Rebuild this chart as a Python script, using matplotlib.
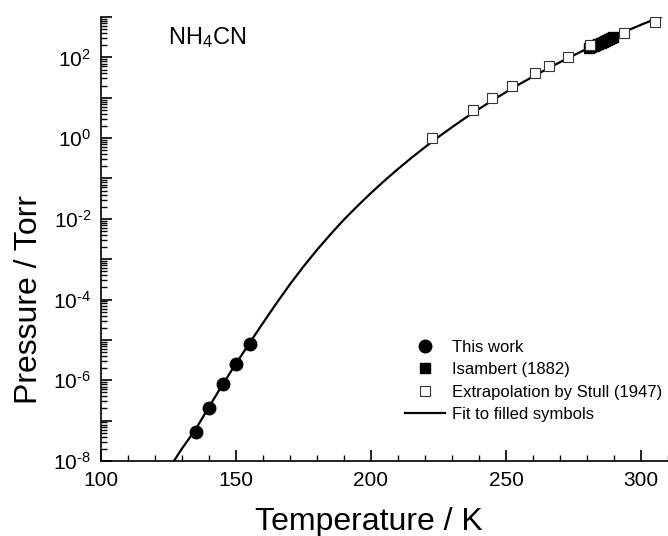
import matplotlib
matplotlib.use("Agg")
import matplotlib.pyplot as plt
from matplotlib.ticker import LogLocator, MultipleLocator, NullFormatter

plt.rcParams['font.family'] = ['Liberation Sans', 'DejaVu Sans']
plt.rcParams['mathtext.fontset'] = 'custom'
plt.rcParams['mathtext.rm'] = 'Liberation Sans'
plt.rcParams['mathtext.it'] = 'Liberation Sans'

# this work (filled circles)
work_T = [135, 140, 145, 150, 155]
work_P = [5.3e-8, 2.1e-7, 7.9e-7, 2.6e-6, 7.9e-6]

# Isambert (1882), filled squares
isam_T = [280.6, 281.6, 282.6, 283.4, 284.2, 285.0, 285.8, 286.6, 287.4, 288.2, 289.0, 289.6]
isam_P = [170, 183, 196, 208, 220, 233, 247, 261, 276, 292, 308, 321]

# Stull (1947) extrapolation, open squares
stull_T = [222.5, 237.6, 244.7, 252.4, 260.9, 265.9, 272.8, 281.0, 293.7, 305.2]
stull_P = [1, 5, 10, 20, 40, 60, 100, 200, 400, 760]

# fit curve
fit_T = [127, 130, 135, 140, 145, 150, 155, 160, 165, 170, 175, 180, 185, 190,
         195, 200, 205, 210, 215, 220, 225, 230, 235, 240, 245, 250, 255, 260,
         265, 270, 275, 280, 285, 290, 295, 300, 305, 310]
fit_P = [1.0e-8, 2.04e-8, 6.03e-8, 2.19e-7, 7.76e-7, 2.60e-6, 8.32e-6, 2.63e-5,
         8.13e-5, 2.40e-4, 6.59e-4, 1.70e-3, 4.13e-3, 9.59e-3, 2.08e-2, 4.37e-2,
         8.81e-2, 0.172, 0.325, 0.597, 1.07, 1.86, 3.18, 5.28, 8.63, 13.8, 21.7,
         33.5, 50.8, 76.0, 112, 163, 233, 330, 462, 641, 877, 1190]

# y tick exponents that carry a label
ylab_exp = ['-8', '-6', '-4', '-2', '0', '2']

fig = plt.figure(figsize=(6.68, 5.36), dpi=100)
ax = fig.add_axes([101/668, 75/536, 567/668, 444/536])

ax.plot(fit_T, fit_P, color='black', lw=1.6, label='Fit to filled symbols', zorder=2)
ax.plot(work_T, work_P, 'o', color='black', ms=9, label='This work', zorder=3)
ax.plot(isam_T, isam_P, 's', color='black', ms=7, label='Isambert (1882)', zorder=3)
ax.plot(stull_T, stull_P, 's', mfc='white', mec='#333333', mew=0.8, ms=7.5,
        label='Extrapolation by Stull (1947)', zorder=3)

ax.set_yscale('log')
ax.set_xlim(100, 310)
ax.set_ylim(1e-8, 1e3)

ax.xaxis.set_major_locator(MultipleLocator(50))
ax.xaxis.set_minor_locator(MultipleLocator(10))
ax.yaxis.set_minor_locator(LogLocator(base=10, subs=range(2, 10), numticks=200))
ax.yaxis.set_minor_formatter(NullFormatter())
ax.set_yticks([10.0**e for e in range(-8, 4)])
labels = []
for e in range(-8, 4):
    if str(e) in ylab_exp:
        labels.append(r'$\mathregular{10^{%s}}$' % str(e).replace('-', '\u2010'))
    else:
        labels.append('')
ax.set_yticklabels(labels)

ax.spines['top'].set_visible(False)
ax.spines['right'].set_visible(False)
for s in ['left', 'bottom']:
    ax.spines[s].set_linewidth(1.2)
ax.tick_params(which='major', direction='in', length=8, width=1.2, labelsize=15, pad=7)
ax.tick_params(which='minor', direction='in', length=4, width=1.0)

ax.set_xlabel('Temperature / K', fontsize=23)
ax.set_ylabel('Pressure / Torr', fontsize=23)
ax.xaxis.set_label_coords(0.473, -0.104)
ax.yaxis.set_label_coords(-0.1, 0.363)

ax.text(0.118, 0.953, r'NH$_4$CN', transform=ax.transAxes, fontsize=17, ha='left', va='center')

h, l = ax.get_legend_handles_labels()
order = [1, 2, 3, 0]
ax.legend([h[i] for i in order], [l[i] for i in order], loc='upper left',
          bbox_to_anchor=(0.525, 0.288), frameon=False, fontsize=12,
          handlelength=2.4, handletextpad=0.4, labelspacing=0.45, borderaxespad=0)

fig.savefig('out.png', dpi=100)
